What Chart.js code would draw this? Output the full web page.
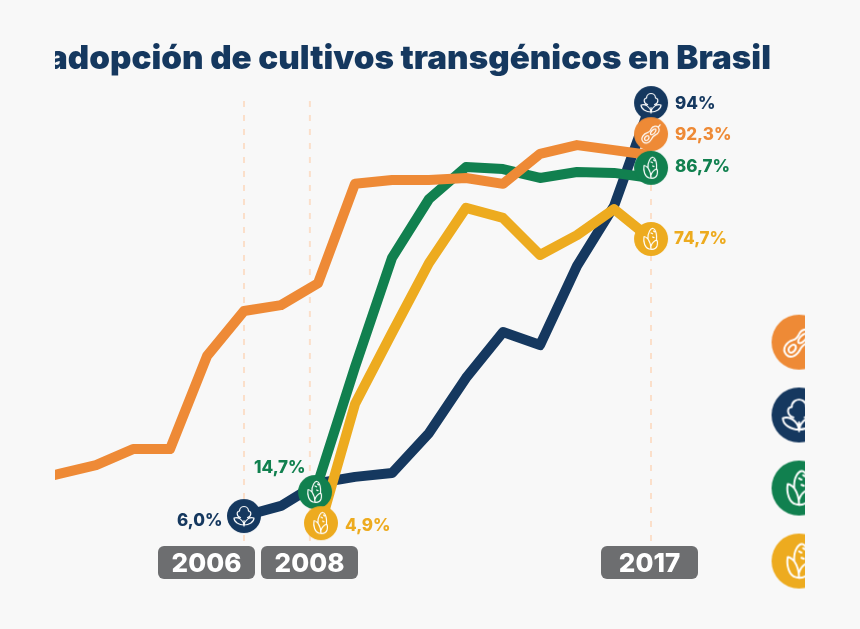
<!DOCTYPE html>
<html lang="es">
<head>
<meta charset="utf-8">
<title>Adopción de cultivos transgénicos en Brasil</title>
<script src="https://cdn.jsdelivr.net/npm/chart.js@4/dist/chart.umd.min.js"></script>
<style>
  html, body { margin: 0; padding: 0; background: #f8f8f8; }
  canvas { display: block; }
</style>
</head>
<body>
<canvas id="adoptionChart" width="860" height="629"></canvas>
<script>
  // ================== DATA ==================
  const TITLE = "adopción de cultivos transgénicos en Brasil";

  const sojaYears = [2000, 2001, 2002, 2003, 2004, 2005, 2006, 2007, 2008, 2009, 2010, 2011, 2012, 2013, 2014, 2015, 2016, 2017];
  const sojaValues = [13.8, 16.0, 18.1, 21.9, 21.9, 44.0, 54.7, 56.1, 61.3, 84.9, 85.8, 85.8, 86.3, 84.9, 92.0, 94.1, 92.9, 91.7];

  const algodonYears = [2006, 2007, 2008, 2009, 2010, 2011, 2012, 2013, 2014, 2015, 2016, 2017];
  const algodonValues = [6.0, 8.4, 13.8, 15.3, 16.2, 25.7, 38.8, 49.7, 46.6, 65.4, 79.6, 104.1];

  // the two corn lines start just beside 2008 in the picture
  const maizVeranoYears = [2007.92, 2009, 2010, 2011, 2012, 2013, 2014, 2015, 2016, 2017];
  const maizVeranoValues = [11.7, 41.4, 67.3, 81.3, 88.9, 88.4, 86.3, 87.7, 87.5, 86.3];

  const maizInviernoYears = [2008.08, 2009, 2010, 2011, 2012, 2013, 2014, 2015, 2016, 2017];
  const maizInviernoValues = [4.3, 32.6, 49.5, 66.1, 79.2, 76.8, 68.0, 72.7, 78.9, 71.8];

  const guideYears = [2006, 2007.78, 2017];
  const guideRange = [104.6, -1.1];

  const yearLabels = ["2006", "2008", "2017"];

  const COLORS = {
    soja: "#ee8a36",
    algodon: "#15385f",
    verano: "#11804f",
    invierno: "#edab1f",
    guide: "#fbdfca",
    pill: "#6d6e70",
    bg: "#f8f8f8",
  };

  // ================== ICONS ==================
  function drawCotton(ctx) {
    ctx.beginPath();
    ctx.moveTo(-3.5, 1.5);
    ctx.bezierCurveTo(-8, 0, -7.5, -5, -4.5, -5);
    ctx.bezierCurveTo(-4.5, -8.5, -1.5, -9.5, 0, -9.5);
    ctx.bezierCurveTo(1.5, -9.5, 4.5, -8.5, 4.5, -5);
    ctx.bezierCurveTo(7.5, -5, 8, 0, 3.5, 1.5);
    ctx.moveTo(0, 9);
    ctx.bezierCurveTo(-1, 3.5, -6, 0.5, -10, 2);
    ctx.bezierCurveTo(-10, 6, -5, 9, 0, 9);
    ctx.bezierCurveTo(5, 9, 10, 6, 10, 2);
    ctx.bezierCurveTo(6, 0.5, 1, 3.5, 0, 9);
    ctx.moveTo(0, 4.5);
    ctx.lineTo(0, 10);
    ctx.stroke();
  }

  function drawPeanut(ctx) {
    ctx.save();
    ctx.rotate(-0.72);
    ctx.beginPath();
    ctx.moveTo(-11, 0.5);
    ctx.bezierCurveTo(-11, -4.5, -5, -5, -2, -3.5);
    ctx.bezierCurveTo(0, -2.5, 2, -3, 4, -4);
    ctx.bezierCurveTo(7, -5, 10, -2.5, 10, -0.5);
    ctx.lineTo(13, -1);
    ctx.moveTo(10, -0.5);
    ctx.bezierCurveTo(10, 3, 6, 4.5, 3, 3.5);
    ctx.bezierCurveTo(1, 3, -1, 3, -3, 4);
    ctx.bezierCurveTo(-7, 5.5, -11, 4, -11, 0.5);
    ctx.moveTo(-8.5, 0.5);
    ctx.bezierCurveTo(-8, -2.5, -3.5, -2, -3, 0);
    ctx.bezierCurveTo(-3.5, 2.5, -8, 3, -8.5, 0.5);
    ctx.moveTo(-0.5, 0);
    ctx.bezierCurveTo(0, -2, 6, -3, 7, -0.5);
    ctx.bezierCurveTo(6, 2, 0, 2, -0.5, 0);
    ctx.stroke();
    ctx.restore();
  }

  function drawCorn(ctx) {
    ctx.beginPath();
    ctx.moveTo(-3, 0);
    ctx.bezierCurveTo(-3.5, -7, 0, -11, 2, -10.5);
    ctx.bezierCurveTo(5, -10, 6, -3, 5.5, 1);
    ctx.moveTo(-3, 0);
    ctx.bezierCurveTo(-5, -2, -6, -2.5, -7, -2.5);
    ctx.bezierCurveTo(-8, 3, -6, 9, -2, 10);
    ctx.bezierCurveTo(2, 11, 5, 9.5, 6, 7);
    ctx.bezierCurveTo(6.5, 5, 6.5, 2, 5.5, 1);
    ctx.moveTo(-3, 0);
    ctx.bezierCurveTo(-1, 3, 0, 7, 0, 10.5);
    ctx.moveTo(0, 7);
    ctx.bezierCurveTo(1, 4, 3, 2, 5.5, 1);
    ctx.moveTo(0, -6);
    ctx.lineTo(1.5, -5.2);
    ctx.moveTo(2.5, -8);
    ctx.lineTo(3.5, -7.2);
    ctx.moveTo(1.5, -2);
    ctx.lineTo(3, -1.4);
    ctx.stroke();
  }

  // pointStyle canvas: a filled disc with the crop icon in white
  function makeBadge(color, radius, drawIcon) {
    const size = radius * 2 + 2;
    const c = document.createElement("canvas");
    c.width = size;
    c.height = size;
    const ctx = c.getContext("2d");
    ctx.translate(size / 2, size / 2);
    ctx.fillStyle = color;
    ctx.beginPath();
    ctx.arc(0, 0, radius, 0, Math.PI * 2);
    ctx.fill();
    ctx.scale(radius / 17, radius / 17);
    ctx.strokeStyle = "#ffffff";
    ctx.lineWidth = 1.2;
    ctx.lineJoin = "round";
    ctx.lineCap = "round";
    drawIcon(ctx);
    return c;
  }

  // ================== DATASET HELPERS ==================
  function lineSet(years, values, color, order) {
    return {
      type: "line",
      data: years.map((year, i) => ({ x: year, y: values[i] })),
      borderColor: color,
      borderWidth: 10,
      borderJoinStyle: "round",
      pointRadius: 0,
      tension: 0,
      clip: 0,
      order,
    };
  }

  function guideSet(year) {
    return {
      type: "line",
      data: guideRange.map((value) => ({ x: year, y: value })),
      borderColor: COLORS.guide,
      borderWidth: 2,
      borderDash: [6, 8],
      pointRadius: 0,
      clip: 0,
      order: 20,
    };
  }

  function badgeSet(year, value, style, order) {
    return {
      type: "scatter",
      data: [{ x: year, y: value }],
      pointStyle: style,
      clip: 0,
      order,
    };
  }

  const badges = {
    algodon: makeBadge(COLORS.algodon, 17, drawCotton),
    soja: makeBadge(COLORS.soja, 17, drawPeanut),
    verano: makeBadge(COLORS.verano, 17, drawCorn),
    invierno: makeBadge(COLORS.invierno, 17, drawCorn),
    legendSoja: makeBadge(COLORS.soja, 27.5, drawPeanut),
    legendAlgodon: makeBadge(COLORS.algodon, 27.5, drawCotton),
    legendVerano: makeBadge(COLORS.verano, 27.5, drawCorn),
    legendInvierno: makeBadge(COLORS.invierno, 27.5, drawCorn),
  };

  // ================== TEXT PLUGIN ==================
  const FONT = '"Inter", "Open Sans", sans-serif';

  const valueLabels = [
    { text: "94%", color: COLORS.algodon, left: 675, mid: 104 },
    { text: "92,3%", color: COLORS.soja, left: 675, mid: 135 },
    { text: "86,7%", color: COLORS.verano, left: 675, mid: 167 },
    { text: "74,7%", color: COLORS.invierno, left: 674, mid: 239 },
    { text: "14,7%", color: COLORS.verano, left: 254, mid: 468 },
    { text: "6,0%", color: COLORS.algodon, left: 177, mid: 521 },
    { text: "4,9%", color: COLORS.invierno, left: 345, mid: 526 },
  ];

  const pillLefts = [158, 261, 601];

  const textPlugin = {
    id: "chartText",
    afterDatasetsDraw(chart) {
      const ctx = chart.ctx;
      ctx.save();

      // title is cut by the left edge of the plot, same as the artwork
      ctx.save();
      ctx.beginPath();
      ctx.rect(55, 0, 750, 100);
      ctx.clip();
      ctx.fillStyle = COLORS.algodon;
      ctx.font = "900 33.2px " + FONT;
      ctx.textAlign = "left";
      ctx.textBaseline = "alphabetic";
      ctx.fillText(TITLE, 48, 69);
      ctx.restore();

      ctx.textBaseline = "middle";
      ctx.font = "800 17px " + FONT;
      ctx.textAlign = "left";
      valueLabels.forEach((label) => {
        ctx.fillStyle = label.color;
        ctx.fillText(label.text, label.left, label.mid);
      });

      yearLabels.forEach((year, i) => {
        ctx.fillStyle = COLORS.pill;
        ctx.beginPath();
        ctx.roundRect(pillLefts[i], 546, 97, 33, 6);
        ctx.fill();
        ctx.fillStyle = "#ffffff";
        ctx.font = "800 26px " + FONT;
        ctx.textAlign = "center";
        ctx.fillText(year, pillLefts[i] + 48.5, 564);
      });

      ctx.restore();
    },
  };

  // ================== CHART ==================
  new Chart(document.getElementById("adoptionChart"), {
    type: "scatter",
    data: {
      datasets: [
        ...guideYears.map(guideSet),
        lineSet(algodonYears, algodonValues, COLORS.algodon, 14),
        lineSet(maizInviernoYears, maizInviernoValues, COLORS.invierno, 13),
        lineSet(maizVeranoYears, maizVeranoValues, COLORS.verano, 12),
        lineSet(sojaYears, sojaValues, COLORS.soja, 11),
        badgeSet(2006, 6.0, badges.algodon, 10),
        badgeSet(2017, 104.1, badges.algodon, 9),
        badgeSet(2017, 96.7, badges.soja, 8),
        badgeSet(2017, 88.7, badges.verano, 7),
        badgeSet(2017, 71.8, badges.invierno, 6),
        badgeSet(2007.92, 11.7, badges.verano, 5),
        badgeSet(2008.08, 4.3, badges.invierno, 4),
        // crop key on the right, cut by the plot edge
        badgeSet(2021, 47.3, badges.legendSoja, 3),
        badgeSet(2021, 30.0, badges.legendAlgodon, 3),
        badgeSet(2021, 12.65, badges.legendVerano, 3),
        badgeSet(2021, -4.7, badges.legendInvierno, 3),
      ],
    },
    options: {
      responsive: false,
      animation: false,
      events: [],
      layout: { autoPadding: false, padding: { left: 55, right: 55, top: 0, bottom: 0 } },
      plugins: { legend: { display: false }, tooltip: { enabled: false } },
      scales: {
        x: { type: "linear", display: false, min: 2000.892, max: 2021.162 },
        y: { type: "linear", display: false, min: -20.84, max: 128.57 },
      },
    },
    plugins: [textPlugin],
  });
</script>
</body>
</html>
